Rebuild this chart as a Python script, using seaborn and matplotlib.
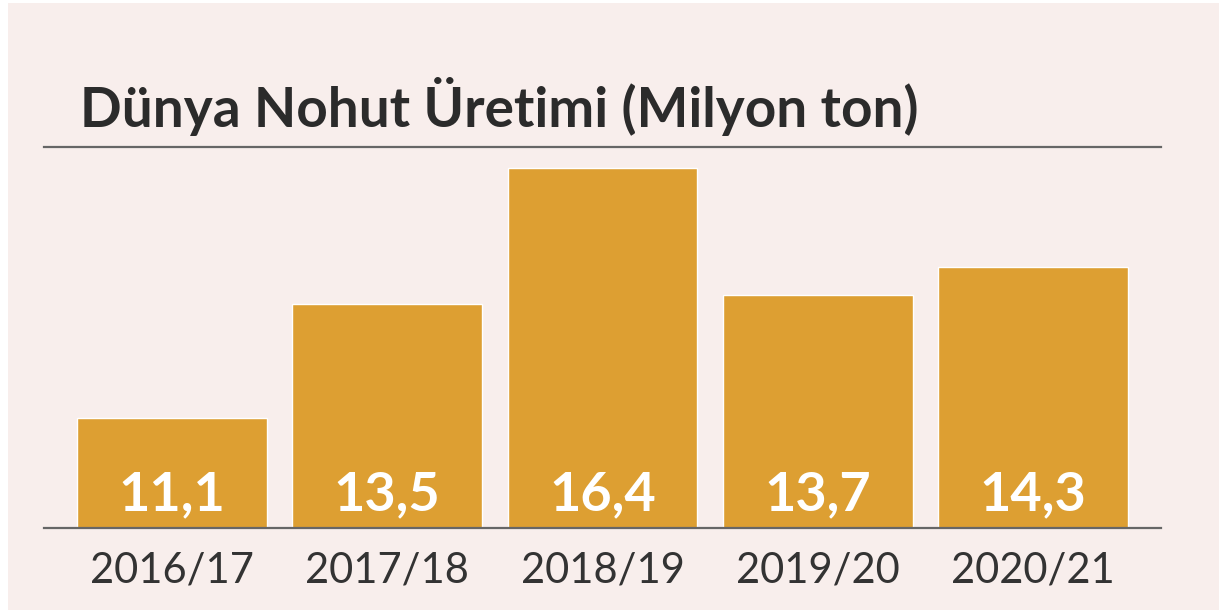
import matplotlib
matplotlib.use("Agg")
import matplotlib.pyplot as plt
import seaborn as sns
import pandas as pd
from matplotlib.patches import Rectangle

# veriler
seasons = ["2016/17", "2017/18", "2018/19", "2019/20", "2020/21"]
production = [11.1, 13.5, 16.4, 13.7, 14.3]
labels = ["11,1", "13,5", "16,4", "13,7", "14,3"]

df = pd.DataFrame({"season": seasons, "production": production})

sns.set_theme(style="white")
plt.rcParams["font.family"] = ["Lato", "DejaVu Sans"]

bg = "#f8eeec"
bar_color = "#dd9f32"
text_color = "#2b2b2b"

fig = plt.figure(figsize=(12.19, 6.10), dpi=100, facecolor="white")
fig.patches.append(Rectangle((8 / 1219, 0), 1 - 8 / 1219, 607 / 610,
                             transform=fig.transFigure, facecolor=bg,
                             edgecolor="none", zorder=-1))

ax = fig.add_axes([44 / 1219, 82 / 610, 1117 / 1219, 381 / 610])
ax.patch.set_alpha(0)

sns.barplot(data=df, x="season", y="production", color=bar_color,
            saturation=1, width=0.88, ax=ax)

ax.set_ylim(8.76, 16.84)
ax.set_xlim(-0.594, 4.594)

for i, lab in enumerate(labels):
    ax.text(i, 9.14, lab, ha="center", va="baseline", color="white",
            fontsize=39, fontweight="bold")

for s in ["left", "right"]:
    ax.spines[s].set_visible(False)
for s in ["top", "bottom"]:
    ax.spines[s].set_color("#666666")
    ax.spines[s].set_linewidth(1.6)

ax.set_xlabel("")
ax.set_ylabel("")
ax.set_yticks([])
ax.tick_params(axis="x", length=0, pad=17, labelsize=30, labelcolor="#333333")

fig.text(80 / 1219, 1 - 107 / 610, "Dünya Nohut Üretimi (Milyon ton)",
         ha="left", va="center", fontsize=39.5, fontweight="bold", color=text_color)

fig.savefig("out.png", dpi=100, facecolor=fig.get_facecolor())
